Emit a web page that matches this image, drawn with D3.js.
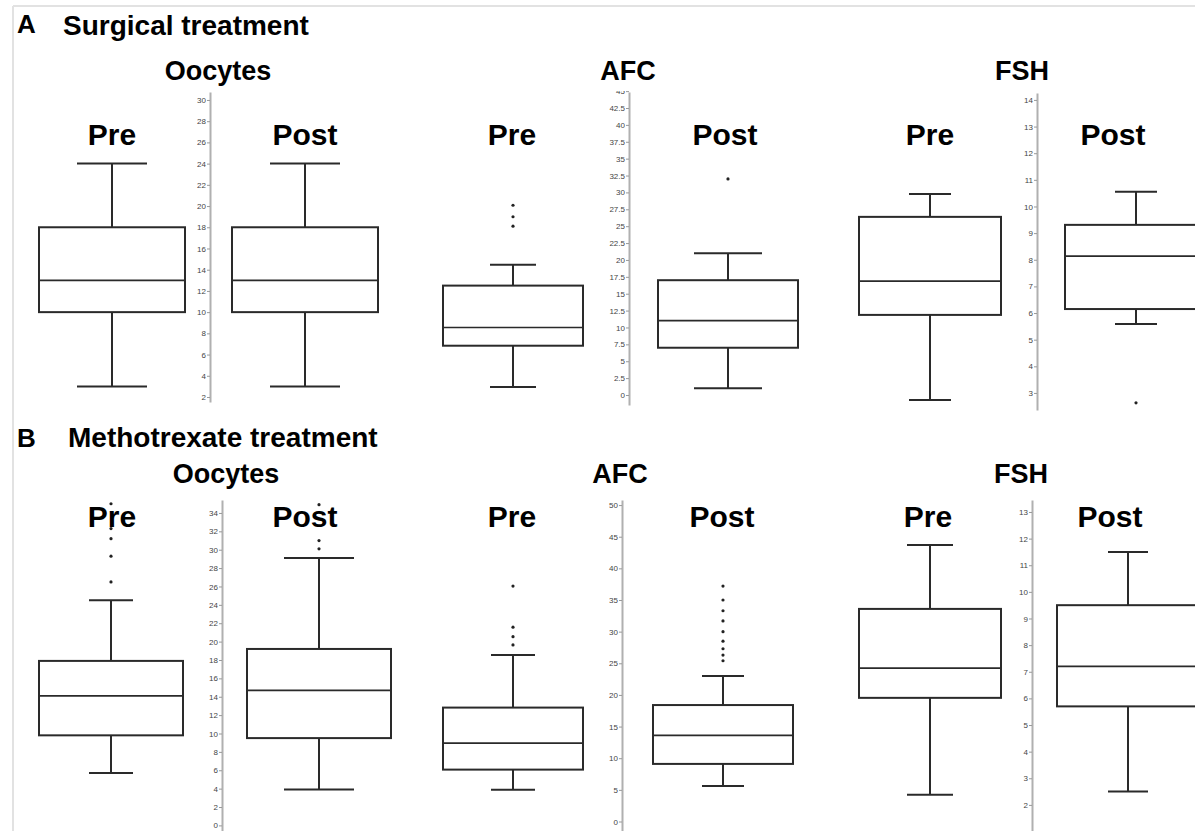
<!DOCTYPE html>
<html>
<head>
    <meta charset="utf-8">
    <title>Surgical vs Methotrexate treatment</title>
    <script src="https://cdn.jsdelivr.net/npm/d3@7"></script>
    <style>
        body { margin: 0; background: #fff; }
        text { font-family: "Liberation Sans", Arial, sans-serif; }
    </style>
</head>
<body>
<script>
    // names
    var measures = ["Oocytes", "AFC", "FSH"];
    var phases = ["Pre", "Post"];
    var sections = ["Surgical treatment", "Methotrexate treatment"];

    // five number summaries [min, q1, median, q3, max], one row per measure
    var surgPre  = [[3, 10, 13, 18, 24], [1.2, 7.3, 10, 16.2, 19.3], [2.74, 5.93, 7.2, 9.61, 10.47]];
    var surgPost = [[3, 10, 13, 18, 24], [1, 7, 11, 17, 21], [5.59, 6.15, 8.14, 9.31, 10.55]];
    var surgPreOut  = [[], [25, 26.4, 28.1], []];
    var surgPostOut = [[], [32], [2.63]];

    var mtxPre  = [[5.7, 9.8, 14.1, 17.9, 24.5], [5, 8.2, 12.4, 18, 26.3], [2.38, 6.02, 7.14, 9.36, 11.76]];
    var mtxPost = [[3.9, 9.5, 14.7, 19.2, 29.1], [5.6, 9.1, 13.6, 18.4, 23], [2.5, 5.7, 7.2, 9.5, 11.5]];
    var mtxPreOut  = [[26.5, 29.3, 31.2, 32.3, 35], [27.9, 29.2, 30.7, 37.2], []];
    var mtxPostOut = [[30.1, 31, 34.9], [25.4, 26.3, 27.3, 28.5, 30, 31.7, 33.3, 35, 37.2], []];

    // axis tick labels
    var surgTicks = [
        [2, 4, 6, 8, 10, 12, 14, 16, 18, 20, 22, 24, 26, 28, 30],
        [0, 2.5, 5, 7.5, 10, 12.5, 15, 17.5, 20, 22.5, 25, 27.5, 30, 32.5, 35, 37.5, 40, 42.5, 45],
        [3, 4, 5, 6, 7, 8, 9, 10, 11, 12, 13, 14]
    ];
    var mtxTicks = [
        [0, 2, 4, 6, 8, 10, 12, 14, 16, 18, 20, 22, 24, 26, 28, 30, 32, 34],
        [0, 5, 10, 15, 20, 25, 30, 35, 40, 45, 50],
        [2, 3, 4, 5, 6, 7, 8, 9, 10, 11, 12, 13]
    ];
    // visible value span of each axis
    var surgDomain = [[1.53, 30.75], [-1.48, 44.87], [2.36, 14.26]];
    var mtxDomain  = [[-0.61, 35.41], [-1.5, 50.8], [1.02, 13.45]];

    var svg = d3.select("body")
        .append("svg")
        .attr("width", 1195)
        .attr("height", 831);

    // light frame at top / left
    svg.append("line").attr("x1", 13).attr("y1", 6).attr("x2", 1195).attr("y2", 6)
        .attr("stroke", "#e2e2e2").attr("stroke-width", 2);
    svg.append("line").attr("x1", 13).attr("y1", 6).attr("x2", 13).attr("y2", 831)
        .attr("stroke", "#e2e2e2").attr("stroke-width", 2);

    // layout of the two rows
    var rows = [
        {
            letter: "A", letterY: 33, titleY: 35,
            pre: surgPre, post: surgPost, preOut: surgPreOut, postOut: surgPostOut,
            ticks: surgTicks, domain: surgDomain,
            range: [[402, 92], [405, 92], [410, 93]],
            headX: [218, 628, 1022], headY: 80,
            labelY: 145, preLabelX: [112, 512, 930], postLabelX: [305, 725, 1113],
            axisX: [210, 629, 1037], preX: [112, 513, 930], postX: [305, 728, 1136],
            boxW: [146, 140, 142],
            cap: [[70, 70], [46, 68], [42, 42]]
        },
        {
            letter: "B", letterY: 447, titleY: 447,
            pre: mtxPre, post: mtxPost, preOut: mtxPreOut, postOut: mtxPostOut,
            ticks: mtxTicks, domain: mtxDomain,
            range: [[831, 500], [831, 500], [831, 500]],
            headX: [226, 620, 1021], headY: 483,
            labelY: 527, preLabelX: [112, 512, 928], postLabelX: [305, 722, 1110],
            axisX: [222, 622, 1032], preX: [111, 513, 930], postX: [319, 723, 1128],
            boxW: [144, 140, 142],
            cap: [[44, 70], [44, 42], [46, 40]]
        }
    ];

    rows.forEach(function(row, r) {
        svg.append("text")
            .attr("x", 17).attr("y", row.letterY)
            .attr("font-size", 26).attr("font-weight", "bold")
            .text(row.letter);
        svg.append("text")
            .attr("x", r == 0 ? 63 : 68).attr("y", row.titleY)
            .attr("font-size", 28).attr("font-weight", "bold")
            .text(sections[r]);

        measures.forEach(function(m, i) {
            var y = d3.scaleLinear()
                .domain(row.domain[i])
                .range(row.range[i]);

            // headings
            svg.append("text")
                .attr("x", row.headX[i]).attr("y", row.headY)
                .attr("text-anchor", "middle")
                .attr("font-size", 27).attr("font-weight", "bold")
                .text(m);
            svg.append("text")
                .attr("x", row.preLabelX[i]).attr("y", row.labelY)
                .attr("text-anchor", "middle")
                .attr("font-size", 30).attr("font-weight", "bold")
                .text(phases[0]);
            svg.append("text")
                .attr("x", row.postLabelX[i]).attr("y", row.labelY)
                .attr("text-anchor", "middle")
                .attr("font-size", 30).attr("font-weight", "bold")
                .text(phases[1]);

            // axis between the two boxes
            var clipId = "clip" + r + i;
            svg.append("clipPath").attr("id", clipId)
                .append("rect")
                .attr("x", row.axisX[i] - 40)
                .attr("y", row.range[i][1] - 1)
                .attr("width", 50)
                .attr("height", row.range[i][0] - row.range[i][1] + 2);
            var axisG = svg.append("g")
                .attr("clip-path", "url(#" + clipId + ")")
                .append("g")
                .attr("transform", "translate(" + row.axisX[i] + ",0)")
                .call(d3.axisLeft(y)
                    .tickValues(row.ticks[i])
                    .tickSize(3)
                    .tickSizeOuter(0)
                    .tickFormat(d3.format("~g")));
            axisG.select(".domain").attr("stroke", "#b0b0b0").attr("stroke-width", 2);
            axisG.selectAll(".tick line").attr("stroke", "#999");
            axisG.selectAll(".tick text")
                .attr("fill", "#444")
                .attr("font-size", 8)
                .attr("x", -4)
                .style("font-family", "'Liberation Sans', Arial, sans-serif");

            // boxes
            var boxes = [
                { s: row.pre[i], out: row.preOut[i], cx: row.preX[i], cap: row.cap[i][0] },
                { s: row.post[i], out: row.postOut[i], cx: row.postX[i], cap: row.cap[i][1] }
            ];
            var w = row.boxW[i];
            boxes.forEach(function(b) {
                var g = svg.append("g")
                    .attr("stroke", "#2a2a2a")
                    .attr("stroke-width", 2)
                    .attr("fill", "none");
                // whiskers
                g.append("line").attr("x1", b.cx).attr("x2", b.cx)
                    .attr("y1", y(b.s[4])).attr("y2", y(b.s[3]));
                g.append("line").attr("x1", b.cx).attr("x2", b.cx)
                    .attr("y1", y(b.s[1])).attr("y2", y(b.s[0]));
                g.append("line").attr("x1", b.cx - b.cap / 2).attr("x2", b.cx + b.cap / 2)
                    .attr("y1", y(b.s[4])).attr("y2", y(b.s[4]));
                g.append("line").attr("x1", b.cx - b.cap / 2).attr("x2", b.cx + b.cap / 2)
                    .attr("y1", y(b.s[0])).attr("y2", y(b.s[0]));
                // box
                g.append("rect")
                    .attr("x", b.cx - w / 2)
                    .attr("y", y(b.s[3]))
                    .attr("width", w)
                    .attr("height", y(b.s[1]) - y(b.s[3]))
                    .attr("fill", "#fff");
                // median
                g.append("line").attr("x1", b.cx - w / 2).attr("x2", b.cx + w / 2)
                    .attr("y1", y(b.s[2])).attr("y2", y(b.s[2]))
                    .attr("stroke-width", 1.7);
                // outliers
                svg.selectAll(null)
                    .data(b.out)
                    .enter()
                    .append("circle")
                    .attr("cx", b.cx)
                    .attr("cy", function(d) { return y(d); })
                    .attr("r", 1.6)
                    .attr("fill", "#222");
            });
        });
    });
</script>
</body>
</html>
